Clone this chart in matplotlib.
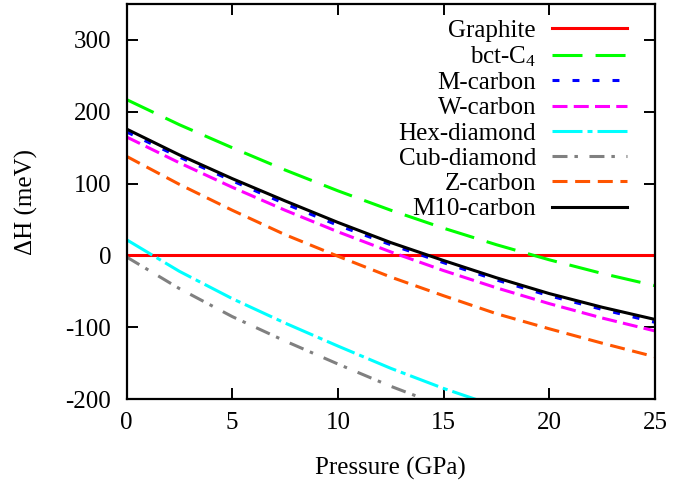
import matplotlib
matplotlib.use("Agg")
from matplotlib import pyplot as plt

plt.rcParams['font.family'] = ['Liberation Serif', 'DejaVu Serif']
plt.rcParams['mathtext.fontset'] = 'custom'
plt.rcParams['mathtext.rm'] = 'Liberation Serif'
plt.rcParams['mathtext.it'] = 'Liberation Serif:italic'
plt.rcParams['axes.unicode_minus'] = False
plt.rcParams['lines.scale_dashes'] = False

# pressure (GPa) and enthalpy relative to graphite (meV)
pressure = [0, 2.5, 5, 7.5, 10, 12.5, 15, 17.5, 20, 22.5, 25]
graphite = [0, 0, 0, 0, 0, 0, 0, 0, 0, 0, 0]
bct_c4 = [217, 182, 150, 119, 90, 63, 38, 15, -6, -25, -42]
m_carbon = [172, 137, 104, 72, 42, 15, -10, -34, -56, -75, -93]
w_carbon = [165, 129, 95, 63, 33, 5, -21, -45, -67, -87, -105]
hex_diamond = [22, -22, -60, -94, -126, -157, -185, -210]
cub_diamond = [-2, -46, -85, -119, -151, -182, -210]
z_carbon = [138, 99, 63, 29, -1, -30, -56, -81, -102, -122, -141]
m10_carbon = [176, 140, 107, 76, 46, 18, -7, -31, -53, -72, -89]

xticks = [0, 5, 10, 15, 20, 25]
yticks = [-200, -100, 0, 100, 200, 300]

fig = plt.figure(figsize=(6.74, 4.8), dpi=100)
ax = fig.add_axes([0.1877, 0.1683, 0.7841, 0.8234])

lw = 2.2
ax.plot(pressure, graphite, color='#ff0000', lw=lw, label='Graphite')
ax.plot(pressure, bct_c4, color='#00ff00', lw=lw, dashes=(21.6, 9.4), label='bct-C$_4$')
ax.plot(pressure, m_carbon, color='#0000ff', lw=lw, dashes=(5, 9.4), label='M-carbon')
ax.plot(pressure, w_carbon, color='#ff00ff', lw=lw, dashes=(10.8, 4.5), label='W-carbon')
ax.plot(pressure[:len(hex_diamond)], hex_diamond, color='#00ffff', lw=lw,
        dashes=(21.6, 3.6, 3.6, 3.6), label='Hex-diamond')
ax.plot(pressure[:len(cub_diamond)], cub_diamond, color='#808080', lw=lw,
        dashes=(10.8, 5, 2.5, 8.3), label='Cub-diamond')
ax.plot(pressure, z_carbon, color='#ff5500', lw=lw, dashes=(10.8, 5.5), label='Z-carbon')
ax.plot(pressure, m10_carbon, color='#000000', lw=lw, label='M10-carbon')

ax.set_xlim(0, 25)
ax.set_ylim(-200, 350)
ax.set_xticks(xticks)
ax.set_yticks(yticks)
ax.tick_params(direction='in', length=7.7, width=1.4, top=True, right=True, labelsize=18)
ax.tick_params(axis='x', pad=9)
ax.tick_params(axis='y', pad=11)
for s in ax.spines.values():
    s.set_linewidth(1.6)

ax.set_xlabel('Pressure (GPa)', fontsize=18, labelpad=17)
ax.set_ylabel('ΔH (meV)', fontsize=18, labelpad=20)

ax.legend(loc='upper right', bbox_to_anchor=(0.947, 0.962), frameon=False,
          markerfirst=False, fontsize=18, handlelength=3.0, handletextpad=0.64,
          labelspacing=0.11, borderpad=0, borderaxespad=0)

plt.savefig('out.png', dpi=100)
